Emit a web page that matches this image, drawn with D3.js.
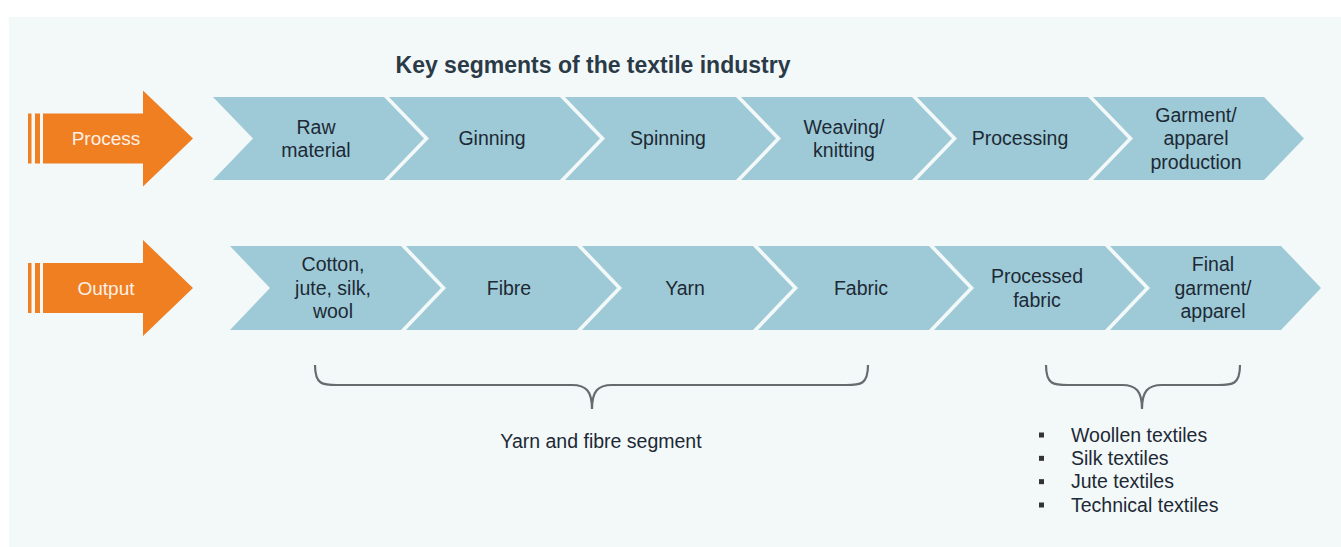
<!DOCTYPE html>
<html>
<head>
<meta charset="utf-8">
<script src="https://cdn.jsdelivr.net/npm/d3@7"></script>
<style>
  html, body { margin: 0; padding: 0; background: #fff; }
  svg { display: block; font-family: "Liberation Sans", Arial, sans-serif; }
</style>
</head>
<body>
<svg id="chart" width="1341" height="547"></svg>
<script>
const TITLE = 'Key segments of the textile industry';
const rowLabels = ['Process', 'Output'];
const processSteps = [['Raw', 'material'], ['Ginning'], ['Spinning'], ['Weaving/', 'knitting'], ['Processing'], ['Garment/', 'apparel', 'production']];
const outputSteps = [['Cotton,', 'jute, silk,', 'wool'], ['Fibre'], ['Yarn'], ['Fabric'], ['Processed', 'fabric'], ['Final', 'garment/', 'apparel']];
const braceLabels = ['Yarn and fibre segment'];
const textileTypes = ['Woollen textiles', 'Silk textiles', 'Jute textiles', 'Technical textiles'];

const W = 1341, H = 547;
const STEP = 176;
const CHEV_W = 171;
const CHEV_TIP = 40;
const LINE_H = 23.5;
const FONT = 19.5;
const BLUE = '#9ecad7';
const ORANGE = '#f07f22';
const TEXT = '#1d2935';

const svg = d3.select('#chart');

// light panel behind everything
svg.append('rect')
    .attr('x', 9).attr('y', 17)
    .attr('width', W - 9).attr('height', H - 17)
    .attr('fill', '#f3f8f9');

svg.append('text')
    .attr('x', 593).attr('y', 73)
    .attr('text-anchor', 'middle')
    .attr('font-size', 23).attr('font-weight', 'bold')
    .attr('fill', '#2b3a47')
    .text(TITLE);

// rows: vertical centre and chevron start
const rows = [
    { label: rowLabels[0], steps: processSteps, cy: 138.5, h: 83, x0: 213 },
    { label: rowLabels[1], steps: outputSteps, cy: 288, h: 84, x0: 230 }
];

function chevronPath(x, cy, h) {
    const t = cy - h / 2, b = cy + h / 2;
    return `M${x},${t}L${x + CHEV_W},${t}L${x + CHEV_W + CHEV_TIP},${cy}L${x + CHEV_W},${b}L${x},${b}L${x + CHEV_TIP},${cy}Z`;
}

function orangeArrow(g, cy) {
    const bodyH = 50, headH = 96;
    g.append('rect').attr('x', 28).attr('y', cy - bodyH / 2).attr('width', 3.5).attr('height', bodyH).attr('fill', ORANGE);
    g.append('rect').attr('x', 35).attr('y', cy - bodyH / 2).attr('width', 5).attr('height', bodyH).attr('fill', ORANGE);
    g.append('path')
        .attr('d', `M43,${cy - bodyH / 2}L143,${cy - bodyH / 2}L143,${cy - headH / 2}L193,${cy}L143,${cy + headH / 2}L143,${cy + bodyH / 2}L43,${cy + bodyH / 2}Z`)
        .attr('fill', ORANGE);
}

rows.forEach((row) => {
    const g = svg.append('g');
    orangeArrow(g, row.cy);
    g.append('text')
        .attr('x', 106).attr('y', row.cy)
        .attr('dy', '0.35em')
        .attr('text-anchor', 'middle')
        .attr('font-size', 19)
        .attr('fill', '#fdf0e6')
        .text(row.label);

    const x = d3.scaleLinear()
        .domain([0, row.steps.length])
        .range([row.x0, row.x0 + row.steps.length * STEP]);

    const chev = g.selectAll('g.chev')
        .data(row.steps)
        .join('g')
        .attr('class', 'chev');

    chev.append('path')
        .attr('d', (d, i) => chevronPath(x(i), row.cy, row.h))
        .attr('fill', BLUE);

    chev.append('text')
        .attr('text-anchor', 'middle')
        .attr('font-size', FONT)
        .attr('fill', TEXT)
        .selectAll('tspan')
        .data((d, i) => d.map((line, k) => ({ line, k, n: d.length, i })))
        .join('tspan')
        .attr('x', (d) => x(d.i) + 103)
        .attr('y', (d) => row.cy + (d.k - (d.n - 1) / 2) * LINE_H)
        .attr('dy', '0.35em')
        .text((d) => d.line);
});

// curly braces below the output row
function bracePath(x1, x2, xm, top, mid, tipY) {
    const r = 22;
    return `M${x1},${top}C${x1},${mid} ${x1 + 8},${mid} ${x1 + r},${mid}` +
        `L${xm - 20},${mid}C${xm - 6},${mid} ${xm},${mid + 6} ${xm},${tipY}` +
        `C${xm},${mid + 6} ${xm + 6},${mid} ${xm + 20},${mid}` +
        `L${x2 - r},${mid}C${x2 - 8},${mid} ${x2},${mid} ${x2},${top}`;
}

const braces = [
    { x1: 315, x2: 868, xm: 592 },
    { x1: 1046, x2: 1240, xm: 1142 }
];

svg.selectAll('path.brace')
    .data(braces)
    .join('path')
    .attr('class', 'brace')
    .attr('d', (d) => bracePath(d.x1, d.x2, d.xm, 365, 385, 409))
    .attr('fill', 'none')
    .attr('stroke', '#666b6e')
    .attr('stroke-width', 2.2);

svg.append('text')
    .attr('x', 601).attr('y', 441)
    .attr('dy', '0.35em')
    .attr('text-anchor', 'middle')
    .attr('font-size', FONT)
    .attr('fill', TEXT)
    .text(braceLabels[0]);

const list = svg.append('g');
const ly = d3.scaleLinear().domain([0, textileTypes.length - 1]).range([435, 505]);

list.selectAll('rect')
    .data(textileTypes)
    .join('rect')
    .attr('x', 1039).attr('y', (d, i) => ly(i) - 2.5)
    .attr('width', 5).attr('height', 5)
    .attr('fill', '#333');

list.selectAll('text')
    .data(textileTypes)
    .join('text')
    .attr('x', 1071).attr('y', (d, i) => ly(i))
    .attr('dy', '0.35em')
    .attr('font-size', FONT)
    .attr('fill', TEXT)
    .text((d) => d);
</script>
</body>
</html>
